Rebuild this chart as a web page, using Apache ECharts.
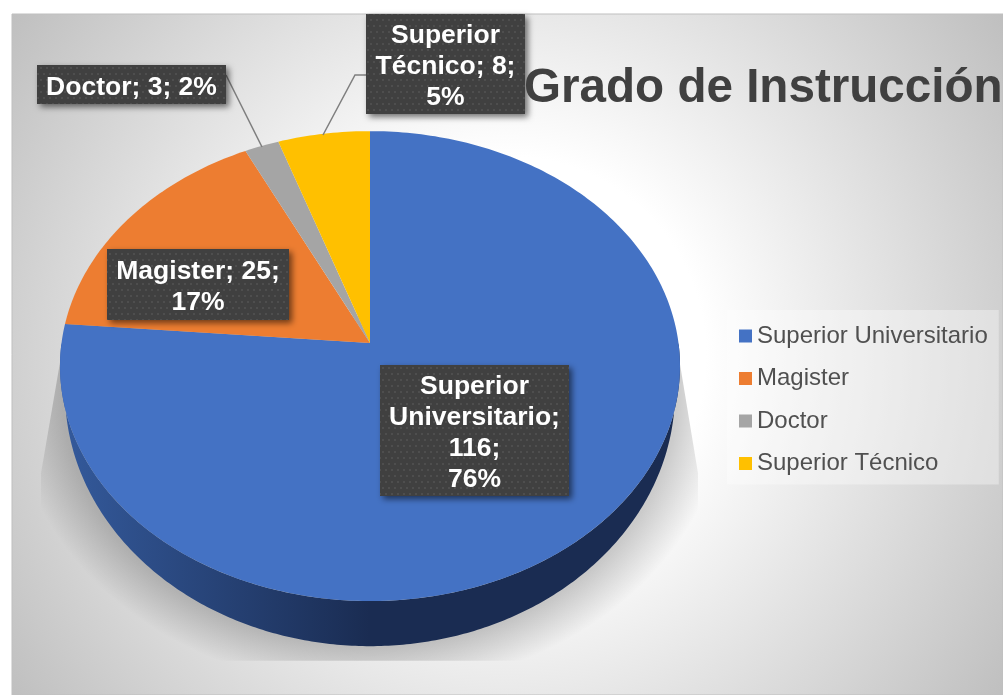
<!DOCTYPE html>
<html>
<head>
<meta charset="utf-8">
<style>
  html, body { margin: 0; padding: 0; background: #fff; }
  #chart { width: 1003px; height: 695px; }
</style>
</head>
<body>
<div id="chart"></div>
<script src="https://cdn.jsdelivr.net/npm/echarts@6/dist/echarts.min.js"></script>
<script>
const categories = ['Superior Universitario', 'Magister', 'Doctor', 'Superior Técnico']
const values = [116, 25, 3, 8]
const percentLabels = ['76%', '17%', '2%', '5%']
const colors = ['#4472c4', '#ed7d31', '#a5a5a5', '#ffc000']

// line breaks of each data label
const labelLines = [
  ['Superior', 'Universitario;', '116;', '76%'],
  ['Magister; 25;', '17%'],
  ['Doctor; 3; 2%'],
  ['Superior', 'Técnico; 8;', '5%']
]
const labelBoxes = [
  { x: 380, y: 365, w: 189, h: 131 },
  { x: 107, y: 249, w: 182, h: 71 },
  { x: 37, y: 65, w: 189, h: 39 },
  { x: 366, y: 14, w: 159, h: 100 }
]
const leaderLines = [
  null,
  null,
  [[226, 75], [262, 147]],
  [[366, 75], [355, 75], [323, 135]]
]

const font = 'Liberation Sans'
const total = values.reduce((a, b) => a + b, 0)

// top face seen in perspective: the apex is not the middle of the ellipse
const apex = { x: 370, y: 343 }
const top3d = { a: 308.5, b: 232.7, k: 0.0983 }
const rimEllipse = { cy: 392, rx: 305, ry: 253, topCy: 366, topRx: 310, topRy: 234 }

function facePoint (phi) {
  const w = 1 + top3d.k * Math.cos(phi)
  return [apex.x + top3d.a * Math.sin(phi) / w, apex.y - top3d.b * Math.cos(phi) / w]
}
function rimPoint (p) {
  return [
    apex.x + rimEllipse.rx * (p[0] - apex.x) / rimEllipse.topRx,
    rimEllipse.cy + rimEllipse.ry * (p[1] - rimEllipse.topCy) / rimEllipse.topRy
  ]
}

// dotted fill of the data labels
function dotPattern () {
  const c = document.createElement('canvas')
  c.width = 12
  c.height = 12
  const ctx = c.getContext('2d')
  ctx.fillStyle = '#404040'
  ctx.fillRect(0, 0, 12, 12)
  ctx.fillStyle = '#4e4e4e'
  ;[[1, 1], [7, 1], [4, 7], [10, 7]].forEach(d => ctx.fillRect(d[0], d[1], 2, 2))
  return c
}
const pattern = { image: dotPattern(), repeat: 'repeat' }

function renderSlice (index) {
  return function (params, api) {
    const before = values.slice(0, index).reduce((a, b) => a + b, 0)
    const start = before / total * Math.PI * 2
    const end = (before + api.value(0)) / total * Math.PI * 2
    const steps = Math.max(4, Math.ceil((end - start) * 60))
    const children = []

    // side of the disc, only on the front half
    const rimStart = Math.max(start, Math.PI / 2)
    const rimEnd = Math.min(end, Math.PI * 1.5)
    if (rimEnd > rimStart) {
      const upper = []
      for (let i = 0; i <= steps; i++) upper.push(facePoint(rimStart + (rimEnd - rimStart) * i / steps))
      const lower = upper.map(rimPoint).reverse()
      children.push({
        type: 'polygon',
        shape: { points: upper.concat(lower) },
        style: {
          fill: {
            type: 'linear', x: 60, y: 0, x2: 680, y2: 0, global: true,
            colorStops: [
              { offset: 0, color: '#345a9c' },
              { offset: 0.5, color: '#1a2c52' },
              { offset: 1, color: '#1a2c52' }
            ]
          }
        }
      })
    }

    const face = [[apex.x, apex.y]]
    for (let i = 0; i <= steps; i++) face.push(facePoint(start + (end - start) * i / steps))
    children.push({ type: 'polygon', shape: { points: face }, style: { fill: colors[index] } })

    if (leaderLines[index]) {
      children.push({
        type: 'polyline',
        shape: { points: leaderLines[index] },
        style: { stroke: '#7f7f7f', lineWidth: 1.5, fill: null }
      })
    }

    const box = labelBoxes[index]
    children.push({
      type: 'rect',
      shape: { x: box.x, y: box.y, width: box.w, height: box.h },
      style: {
        fill: pattern,
        shadowBlur: 6,
        shadowOffsetX: 3,
        shadowOffsetY: 3,
        shadowColor: 'rgba(0,0,0,0.55)'
      }
    })
    const lineH = 31
    const lines = labelLines[index]
    const firstY = box.y + 3 + box.h / 2 - (lines.length - 1) * lineH / 2
    lines.forEach((line, i) => {
      children.push({
        type: 'text',
        style: {
          text: line,
          x: box.x + box.w / 2,
          y: firstY + i * lineH,
          align: 'center',
          verticalAlign: 'middle',
          fill: '#ffffff',
          font: 'bold 26.5px "' + font + '"'
        }
      })
    })
    return { type: 'group', children: children }
  }
}

const chart = echarts.init(document.getElementById('chart'))

chart.setOption({
  animation: false,
  title: {
    text: 'Grado de Instrucción',
    left: 524,
    top: 65,
    padding: 0,
    textStyle: { fontFamily: font, fontSize: 47.6, fontWeight: 'bold', color: '#404040' }
  },
  legend: {
    orient: 'vertical',
    left: 727,
    top: 310,
    padding: [14, 11, 9, 12],
    backgroundColor: 'rgba(255,255,255,0.35)',
    icon: 'rect',
    itemWidth: 13,
    itemHeight: 13,
    itemGap: 18.5,
    data: categories,
    textStyle: { fontFamily: font, fontSize: 24, color: '#505050', lineHeight: 24 }
  },
  graphic: {
    elements: [
      {
        type: 'rect',
        z: -10,
        shape: { x: 12, y: 14, width: 991, height: 681 },
        style: {
          fill: {
            type: 'radial', x: 507, y: 355, r: 602, global: true,
            colorStops: [
              { offset: 0, color: '#ffffff' },
              { offset: 0.33, color: '#ffffff' },
              { offset: 1, color: '#bfbfbf' }
            ]
          },
          stroke: '#bfbfbf',
          lineWidth: 1
        }
      },
      {
        // reflection under the disc, squeezed into an ellipse
        type: 'polygon',
        z: -5,
        originX: 370,
        originY: 392,
        scaleY: 253 / 305,
        shape: {
          points: [
            [68, 300], [41, 490], [41, 716], [698, 716], [698, 490], [672, 300]
          ]
        },
        style: {
          fill: {
            type: 'radial', x: 370, y: 392, r: 358, global: true,
            colorStops: [
              { offset: 0, color: 'rgba(0,0,0,0.2)' },
              { offset: 0.86, color: 'rgba(0,0,0,0.2)' },
              { offset: 1, color: 'rgba(0,0,0,0)' }
            ]
          }
        }
      }
    ]
  },
  series: categories.map((name, i) => ({
    type: 'custom',
    name: name,
    coordinateSystem: 'none',
    itemStyle: { color: colors[i] },
    renderItem: renderSlice(i),
    data: [[values[i], percentLabels[i]]]
  }))
})
</script>
</body>
</html>
